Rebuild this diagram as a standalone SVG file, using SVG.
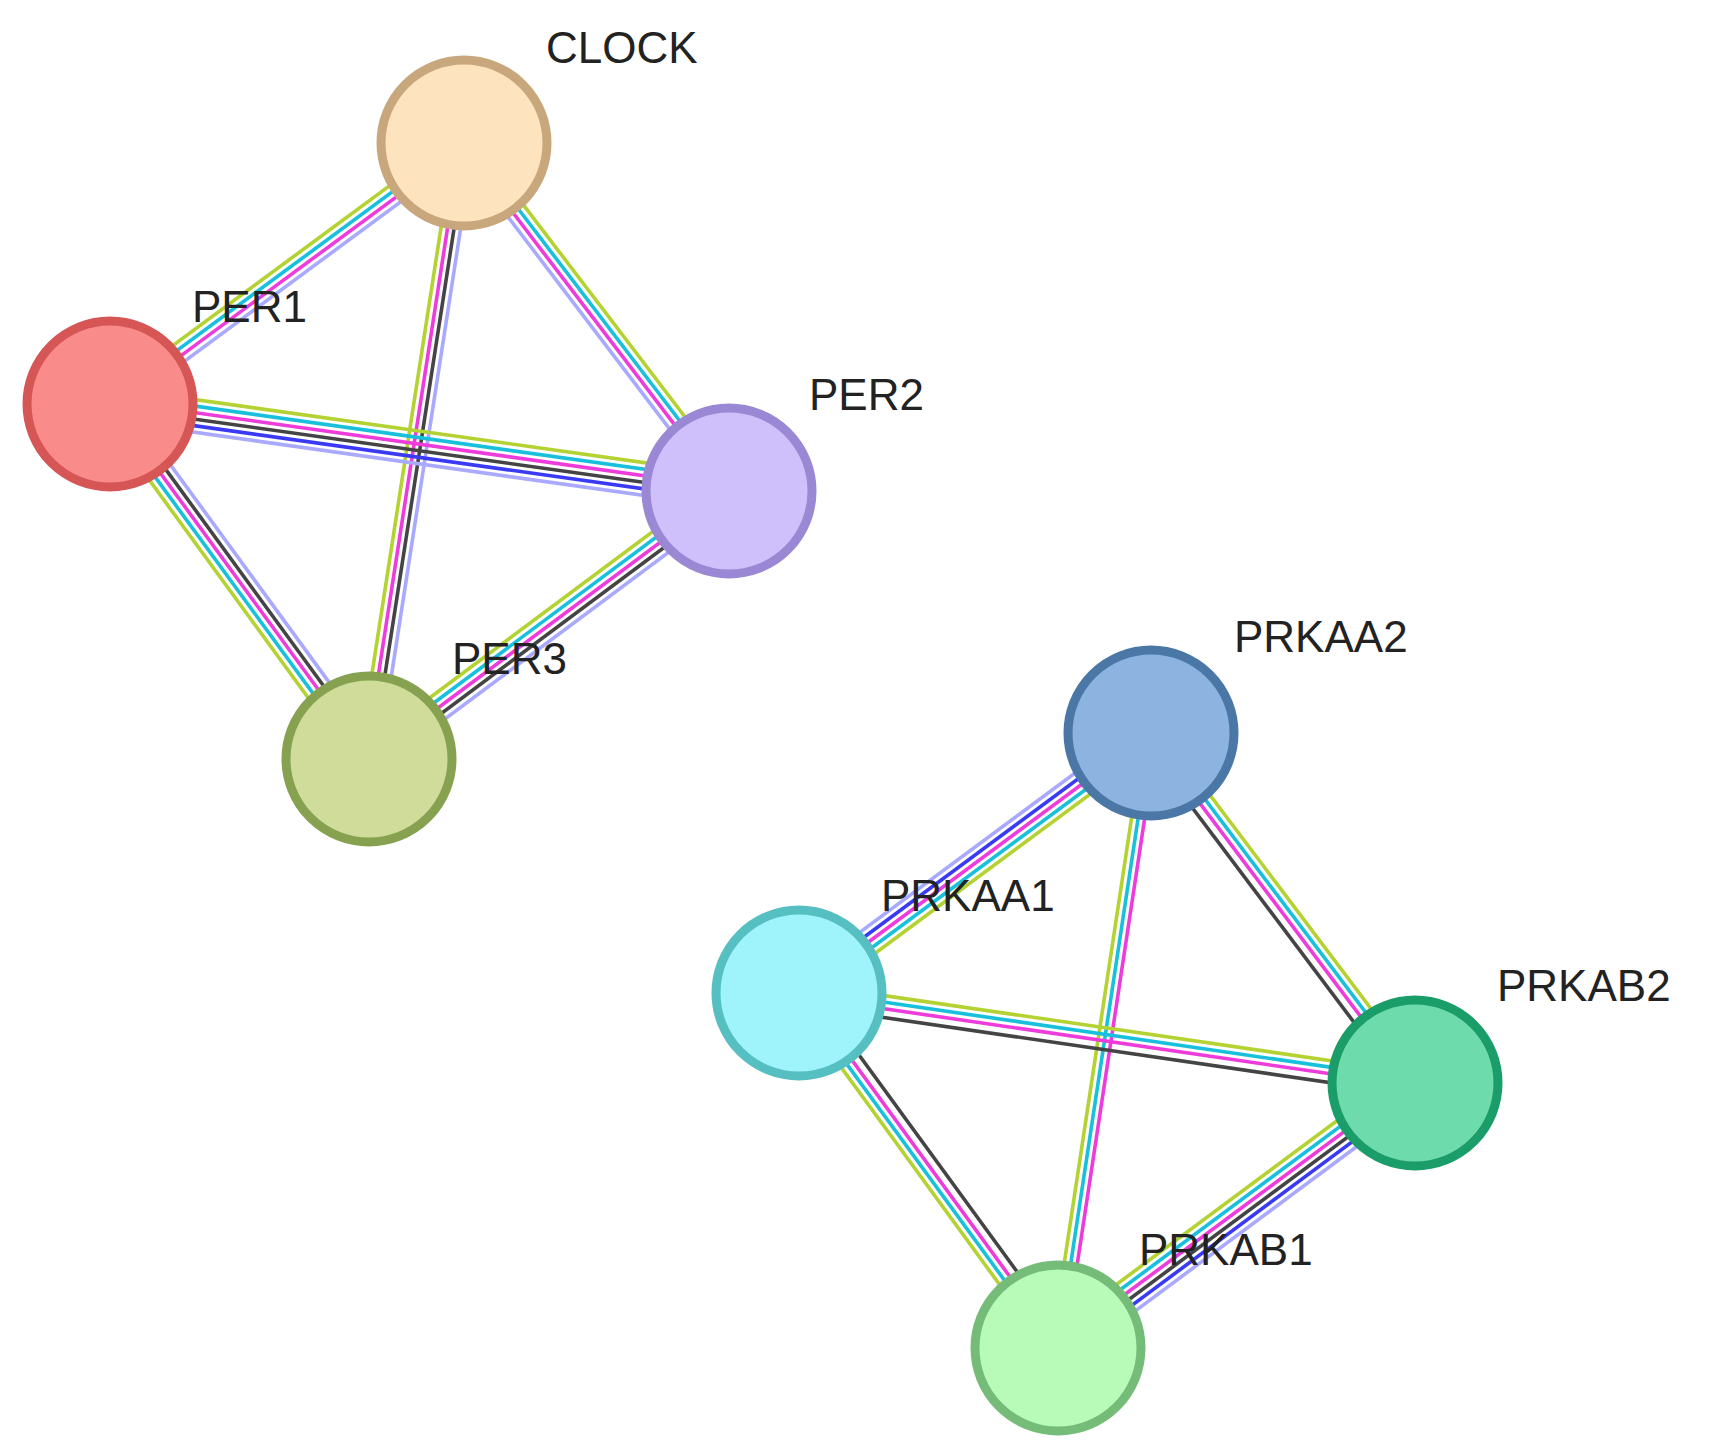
<svg xmlns="http://www.w3.org/2000/svg" width="1724" height="1451" viewBox="0 0 1724 1451">
<style>
line{stroke-width:3.6;fill:none}
.lv{stroke:#a9a9ff}.pk{stroke:#ee3bdc}.cy{stroke:#18c0dc}.yg{stroke:#b4d232}.bk{stroke:#444}.bl{stroke:#3a3af5}
circle{stroke-width:9}
text{font-family:"Liberation Sans",Arial,sans-serif;font-size:44px;fill:#222}
</style>
<rect width="1724" height="1451" fill="#fff"/>
<g id="connectors">
<g transform="translate(464,143) rotate(143.6)"><line class="lv" x1="0" y1="-9.75" x2="439.8" y2="-9.75"/><line class="pk" x1="0" y1="-3.25" x2="439.8" y2="-3.25"/><line class="cy" x1="0" y1="3.25" x2="439.8" y2="3.25"/><line class="yg" x1="0" y1="9.75" x2="439.8" y2="9.75"/></g>
<g transform="translate(464,143) rotate(52.7)"><line class="yg" x1="0" y1="-9.75" x2="437.4" y2="-9.75"/><line class="cy" x1="0" y1="-3.25" x2="437.4" y2="-3.25"/><line class="pk" x1="0" y1="3.25" x2="437.4" y2="3.25"/><line class="lv" x1="0" y1="9.75" x2="437.4" y2="9.75"/></g>
<g transform="translate(464,143) rotate(98.8)"><line class="lv" x1="0" y1="-9.75" x2="623.3" y2="-9.75"/><line class="bk" x1="0" y1="-3.25" x2="623.3" y2="-3.25"/><line class="pk" x1="0" y1="3.25" x2="623.3" y2="3.25"/><line class="yg" x1="0" y1="9.75" x2="623.3" y2="9.75"/></g>
<g transform="translate(110,404) rotate(8.0)"><line class="yg" x1="0" y1="-16.25" x2="625.1" y2="-16.25"/><line class="cy" x1="0" y1="-9.75" x2="625.1" y2="-9.75"/><line class="pk" x1="0" y1="-3.25" x2="625.1" y2="-3.25"/><line class="bk" x1="0" y1="3.25" x2="625.1" y2="3.25"/><line class="bl" x1="0" y1="9.75" x2="625.1" y2="9.75"/><line class="lv" x1="0" y1="16.25" x2="625.1" y2="16.25"/></g>
<g transform="translate(110,404) rotate(53.9)"><line class="lv" x1="0" y1="-13" x2="439.4" y2="-13"/><line class="bk" x1="0" y1="-6.5" x2="439.4" y2="-6.5"/><line class="pk" x1="0" y1="0" x2="439.4" y2="0"/><line class="cy" x1="0" y1="6.5" x2="439.4" y2="6.5"/><line class="yg" x1="0" y1="13" x2="439.4" y2="13"/></g>
<g transform="translate(729,491) rotate(143.3)"><line class="lv" x1="0" y1="-13" x2="448.8" y2="-13"/><line class="bk" x1="0" y1="-6.5" x2="448.8" y2="-6.5"/><line class="pk" x1="0" y1="0" x2="448.8" y2="0"/><line class="cy" x1="0" y1="6.5" x2="448.8" y2="6.5"/><line class="yg" x1="0" y1="13" x2="448.8" y2="13"/></g>
<g transform="translate(1151,733) rotate(143.5)"><line class="lv" x1="0" y1="13" x2="437.6" y2="13"/><line class="bl" x1="0" y1="6.5" x2="437.6" y2="6.5"/><line class="pk" x1="0" y1="0" x2="437.6" y2="0"/><line class="cy" x1="0" y1="-6.5" x2="437.6" y2="-6.5"/><line class="yg" x1="0" y1="-13" x2="437.6" y2="-13"/></g>
<g transform="translate(1151,733) rotate(53.0)"><line class="yg" x1="0" y1="-9.75" x2="438.4" y2="-9.75"/><line class="cy" x1="0" y1="-3.25" x2="438.4" y2="-3.25"/><line class="pk" x1="0" y1="3.25" x2="438.4" y2="3.25"/><line class="bk" x1="0" y1="12" x2="438.4" y2="12"/></g>
<g transform="translate(1151,733) rotate(98.6)"><line class="yg" x1="0" y1="6.5" x2="622" y2="6.5"/><line class="cy" x1="0" y1="0" x2="622" y2="0"/><line class="pk" x1="0" y1="-6.5" x2="622" y2="-6.5"/></g>
<g transform="translate(799,993) rotate(8.3)"><line class="yg" x1="0" y1="-9.75" x2="622.5" y2="-9.75"/><line class="cy" x1="0" y1="-3.25" x2="622.5" y2="-3.25"/><line class="pk" x1="0" y1="3.25" x2="622.5" y2="3.25"/><line class="bk" x1="0" y1="12" x2="622.5" y2="12"/></g>
<g transform="translate(799,993) rotate(53.9)"><line class="bk" x1="0" y1="-12" x2="439.4" y2="-12"/><line class="pk" x1="0" y1="-3.25" x2="439.4" y2="-3.25"/><line class="cy" x1="0" y1="3.25" x2="439.4" y2="3.25"/><line class="yg" x1="0" y1="9.75" x2="439.4" y2="9.75"/></g>
<g transform="translate(1415,1083) rotate(143.4)"><line class="lv" x1="0" y1="-16.25" x2="444.6" y2="-16.25"/><line class="bl" x1="0" y1="-9.75" x2="444.6" y2="-9.75"/><line class="bk" x1="0" y1="-3.25" x2="444.6" y2="-3.25"/><line class="pk" x1="0" y1="3.25" x2="444.6" y2="3.25"/><line class="cy" x1="0" y1="9.75" x2="444.6" y2="9.75"/><line class="yg" x1="0" y1="16.25" x2="444.6" y2="16.25"/></g>
</g>
<g id="CLOCK"><circle cx="464" cy="143" r="83" fill="#fde3be" stroke="#c9a77c"/><text x="546" y="63">CLOCK</text></g>
<g id="PER1"><circle cx="110" cy="404" r="83" fill="#f98b8b" stroke="#d65555"/><text x="192" y="322">PER1</text></g>
<g id="PER2"><circle cx="729" cy="491" r="83" fill="#cfc0fb" stroke="#9a88d4"/><text x="809" y="410">PER2</text></g>
<g id="PER3"><circle cx="369" cy="759" r="83" fill="#cfdc9a" stroke="#86a150"/><text x="452" y="674">PER3</text></g>
<g id="PRKAA2"><circle cx="1151" cy="733" r="83" fill="#8db3e0" stroke="#4a77a6"/><text x="1234" y="652">PRKAA2</text></g>
<g id="PRKAA1"><circle cx="799" cy="993" r="83" fill="#9ff3fb" stroke="#56bfc2"/><text x="881" y="911">PRKAA1</text></g>
<g id="PRKAB2"><circle cx="1415" cy="1083" r="83" fill="#6edbac" stroke="#1a9d69"/><text x="1497" y="1001">PRKAB2</text></g>
<g id="PRKAB1"><circle cx="1058" cy="1348" r="83" fill="#b8fbb8" stroke="#74bc78"/><text x="1139" y="1265">PRKAB1</text></g>
</svg>
